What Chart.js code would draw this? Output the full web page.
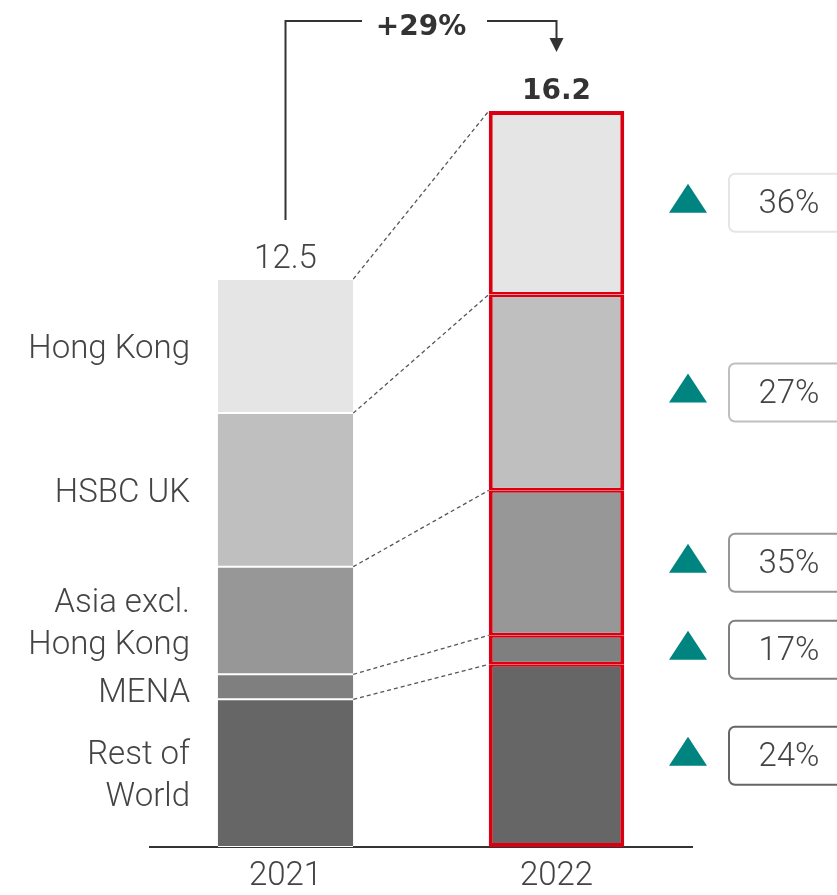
<!doctype html>
<html>
<head>
<meta charset="utf-8">
<title>Revenue by region</title>
<script src="https://cdn.jsdelivr.net/npm/chart.js@4.4.0/dist/chart.umd.min.js"></script>
<style>
  body { margin: 0; background: #fff; }
</style>
</head>
<body>
<canvas id="chart" width="837" height="895"></canvas>
<script>
// data, bottom of the stack first
var years = ['2021', '2022'];
var regions = [['Rest of', 'World'], ['MENA'], ['Asia excl.', 'Hong Kong'], ['HSBC UK'], ['Hong Kong']];
var restOfWorld = [3.25, 4.02];
var mena = [0.55, 0.64];
var asia = [2.37, 3.19];
var hsbcUk = [3.38, 4.31];
var hongKong = [2.95, 4.04];
var totals = ['12.5', '16.2'];
var growth = ['24%', '17%', '35%', '27%', '36%'];
var change = '+29%';

var greys = ['#666666', '#7f7f7f', '#979797', '#bfbfbf', '#e5e5e5'];
var series = [restOfWorld, mena, asia, hsbcUk, hongKong];
var red = '#db0011';
var teal = '#00847f';
var ink = '#444444';
var FONT = 'Roboto';
var BOLD = '"DejaVu Sans"';

var datasets = series.map(function (vals, i) {
    return {
        label: regions[i].join(' '),
        data: vals,
        backgroundColor: greys[i],
        borderColor: function (ctx) { return ctx.dataIndex === 1 ? red : '#ffffff'; },
        borderWidth: function (ctx) {
            if (ctx.dataIndex !== 1) return { top: 1, bottom: 1, left: 0, right: 0 };
            var last = series.length - 1;
            return {
                left: 4, right: 4,
                top: ctx.datasetIndex === last ? 4 : 2.5,
                bottom: ctx.datasetIndex === 0 ? 4 : 2.5
            };
        },
        borderSkipped: false,
        barPercentage: 0.5,
        categoryPercentage: 1,
        clip: false
    };
});

var annotations = {
    id: 'annotations',
    afterDatasetsDraw: function (chart) {
        var c = chart.ctx;
        var metas = series.map(function (v, i) { return chart.getDatasetMeta(i).data; });
        c.save();

        // dashed connectors between segment tops
        c.strokeStyle = '#555';
        c.lineWidth = 1.3;
        c.setLineDash([4, 3]);
        metas.forEach(function (bars) {
            var a = bars[0], b = bars[1];
            c.beginPath();
            c.moveTo(a.x + a.width / 2, a.y);
            c.lineTo(b.x - b.width / 2, b.y);
            c.stroke();
        });
        c.setLineDash([]);

        // region labels to the left of 2021
        c.fillStyle = ink;
        c.font = '300 33px ' + FONT;
        c.textAlign = 'right';
        c.textBaseline = 'middle';
        metas.forEach(function (bars, i) {
            var mid = (bars[0].y + bars[0].base) / 2 + 4;
            if (i === 1) mid += 3;
            var lines = regions[i];
            lines.forEach(function (t, k) {
                c.fillText(t, 190, mid + (k - (lines.length - 1) / 2) * 42);
            });
        });

        // totals
        var top21 = metas[4][0], top22 = metas[4][1];
        c.textAlign = 'center';
        c.textBaseline = 'alphabetic';
        c.font = '300 33px ' + FONT;
        c.fillText(totals[0], top21.x, top21.y - 11);
        c.fillStyle = '#333';
        c.font = 'bold 28px ' + BOLD;
        c.fillText(totals[1], top22.x, top22.y - 12);

        // bracket with arrow
        var yTop = 21;
        c.strokeStyle = '#333';
        c.lineWidth = 2;
        c.beginPath();
        c.moveTo(top21.x, 220);
        c.lineTo(top21.x, yTop);
        c.lineTo(362, yTop);
        c.moveTo(487, yTop);
        c.lineTo(top22.x, yTop);
        c.lineTo(top22.x, 40);
        c.stroke();
        c.fillStyle = '#333';
        c.beginPath();
        c.moveTo(top22.x - 7, 38);
        c.lineTo(top22.x + 7, 38);
        c.lineTo(top22.x, 52);
        c.closePath();
        c.fill();
        c.fillText(change, 421, 35);

        // growth markers and boxes beside 2022
        c.font = '300 33px ' + FONT;
        c.textBaseline = 'middle';
        metas.forEach(function (bars, i) {
            var b = bars[1];
            var mid = (b.y + b.base) / 2;
            c.fillStyle = teal;
            c.beginPath();
            c.moveTo(669, mid + 10);
            c.lineTo(707, mid + 10);
            c.lineTo(688, mid - 19);
            c.closePath();
            c.fill();

            c.strokeStyle = greys[i];
            c.lineWidth = 2;
            c.beginPath();
            c.roundRect(729, mid - 29, 140, 58, 6);
            c.stroke();

            c.fillStyle = ink;
            c.textAlign = 'center';
            c.fillText(growth[i], 789, mid + 2);
        });

        c.restore();
    }
};

new Chart(document.getElementById('chart'), {
    type: 'bar',
    data: { labels: years, datasets: datasets },
    options: {
        responsive: false,
        animation: false,
        layout: { padding: { top: 111, left: 150, right: 145, bottom: 0 } },
        plugins: { legend: { display: false }, tooltip: { enabled: false } },
        scales: {
            x: {
                stacked: true,
                grid: { display: false, drawTicks: false },
                border: { display: true, color: '#333', width: 2 },
                ticks: { color: ink, padding: 10, font: { family: FONT, size: 33, weight: '300' } },
                afterFit: function (s) { s.height = 48; }
            },
            y: {
                stacked: true,
                display: false,
                min: 0,
                max: 16.2
            }
        }
    },
    plugins: [annotations]
});
</script>
</body>
</html>
